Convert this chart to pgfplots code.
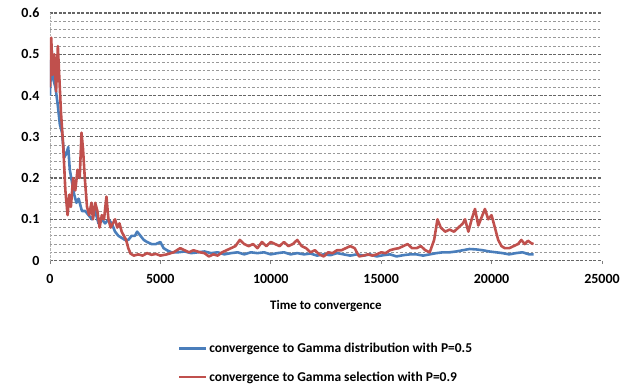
\documentclass[border=0pt]{standalone}
\usepackage{pgfplots}
\pgfplotsset{compat=1.18}
\usepackage{fontspec}
\setmainfont{Carlito}
\definecolor{xlblue}{RGB}{74,126,187}
\definecolor{xlred}{RGB}{192,80,77}
\begin{document}
\begin{tikzpicture}
\begin{axis}[
  scale only axis, width=553pt, height=248pt,
  xmin=0, xmax=25000, ymin=0, ymax=0.6,
  xtick={0,5000,...,25000},
  ytick={0,0.1,...,0.6},
  minor y tick num=4,
  ymajorgrids, yminorgrids,
  major grid style={black!60, dash pattern=on 3pt off 1.5pt, line width=1.1pt},
  minor grid style={black!40, dash pattern=on 2.5pt off 2pt, line width=0.8pt},
  axis x line*=bottom, axis y line*=left,
  x axis line style={black!60, dash pattern=on 3pt off 1.5pt, line width=1.1pt},
  y axis line style={gray!60, densely dotted},
  x tick style={gray, line width=0.6pt},
  y tick style={draw=none}, minor y tick style={draw=none},
  tick align=outside, major tick length=3pt,
  scaled x ticks=false,
  xticklabel style={/pgf/number format/1000 sep={}, font=\bfseries\fontsize{14}{16}\selectfont, yshift=-7pt},
  yticklabel style={/pgf/number format/fixed, /pgf/number format/precision=1, font=\bfseries\fontsize{14}{16}\selectfont, xshift=-4pt},
  /pgf/number format/assume math mode=true,
  xlabel={Time to convergence},
  xlabel style={font=\bfseries\fontsize{13}{15}\selectfont, yshift=-10pt},
  legend style={at={(0.5,-0.315)}, anchor=north, draw=none, fill=none,
    font=\bfseries\fontsize{13.5}{15}\selectfont, row sep=14pt},
  legend cell align=left,
  legend image code/.code={\draw[#1, line width=2.6pt] (0cm,0cm) -- (0.95cm,0cm);},
  every axis plot/.append style={line width=2.6pt, line join=round},
]
\addplot[xlblue] coordinates {
(0,0.40)(80,0.51)(150,0.44)(250,0.42)(350,0.38)(450,0.33)(550,0.31)(650,0.25)(750,0.26)(830,0.275)
(900,0.22)(1000,0.19)(1100,0.16)(1200,0.14)(1300,0.15)(1450,0.12)(1600,0.12)(1750,0.11)(1900,0.10)
(2050,0.12)(2200,0.09)(2350,0.10)(2500,0.09)(2650,0.10)(2800,0.09)(2950,0.07)(3100,0.06)(3250,0.055)
(3400,0.05)(3550,0.05)(3700,0.06)(3850,0.06)(3950,0.07)(4100,0.06)(4250,0.05)(4400,0.045)(4600,0.04)
(4800,0.04)(5000,0.045)(5150,0.03)(5300,0.025)(5500,0.02)(5800,0.02)(6100,0.022)(6400,0.018)(6700,0.02)
(7000,0.022)(7300,0.018)(7600,0.02)(7900,0.015)(8200,0.018)(8500,0.02)(8800,0.015)(9100,0.02)(9400,0.018)
(9700,0.02)(10000,0.015)(10300,0.018)(10600,0.02)(10900,0.015)(11200,0.018)(11500,0.015)(11800,0.017)
(12100,0.012)(12400,0.015)(12700,0.013)(13000,0.018)(13300,0.015)(13600,0.012)(13900,0.015)(14200,0.012)
(14500,0.015)(14800,0.01)(15100,0.013)(15400,0.015)(15700,0.01)(16000,0.013)(16300,0.015)(16600,0.015)
(16900,0.012)(17200,0.015)(17500,0.018)(17800,0.02)(18100,0.02)(18400,0.022)(18700,0.025)(19000,0.028)
(19300,0.027)(19600,0.025)(19900,0.022)(20200,0.02)(20500,0.018)(20800,0.015)(21100,0.018)(21400,0.02)
(21700,0.015)(21900,0.015)
};
\addlegendentry{convergence to Gamma distribution with P=0.5}
\addplot[xlred] coordinates {
(0,0.42)(60,0.54)(120,0.45)(200,0.50)(280,0.41)(360,0.52)(420,0.45)(500,0.36)(600,0.28)(700,0.17)
(800,0.11)(880,0.16)(950,0.13)(1050,0.2)(1150,0.17)(1250,0.22)(1350,0.20)(1430,0.31)(1500,0.27)
(1580,0.20)(1680,0.13)(1780,0.11)(1880,0.14)(1950,0.10)(2050,0.14)(2150,0.12)(2250,0.08)(2350,0.11)
(2450,0.10)(2560,0.155)(2650,0.10)(2750,0.08)(2850,0.09)(2950,0.10)(3050,0.08)(3150,0.09)(3250,0.07)
(3350,0.06)(3450,0.05)(3550,0.03)(3650,0.017)(3800,0.012)(4000,0.015)(4200,0.012)(4400,0.018)
(4600,0.014)(4800,0.016)(5000,0.012)(5300,0.015)(5600,0.02)(5900,0.03)(6100,0.025)(6300,0.02)
(6500,0.025)(6800,0.02)(7000,0.018)(7200,0.01)(7400,0.015)(7600,0.012)(7800,0.02)(8000,0.025)
(8200,0.03)(8400,0.035)(8600,0.05)(8800,0.04)(9000,0.035)(9200,0.04)(9400,0.03)(9600,0.045)
(9800,0.035)(10000,0.045)(10200,0.04)(10400,0.035)(10600,0.045)(10800,0.035)(11000,0.04)(11200,0.05)
(11400,0.035)(11600,0.03)(11800,0.02)(12000,0.025)(12200,0.015)(12400,0.01)(12600,0.02)(12800,0.018)
(13000,0.025)(13200,0.025)(13400,0.03)(13600,0.035)(13800,0.03)(14000,0.01)(14200,0.012)(14400,0.015)
(14600,0.012)(14800,0.015)(15000,0.02)(15200,0.018)(15400,0.025)(15600,0.028)(15800,0.03)(16000,0.035)
(16200,0.04)(16400,0.03)(16600,0.03)(16800,0.035)(17000,0.025)(17200,0.02)(17400,0.05)(17550,0.10)
(17700,0.08)(17900,0.07)(18100,0.075)(18300,0.07)(18500,0.08)(18700,0.09)(18800,0.10)(18950,0.07)
(19100,0.10)(19250,0.125)(19400,0.085)(19550,0.105)(19700,0.125)(19850,0.10)(20000,0.11)(20150,0.08)
(20300,0.05)(20450,0.035)(20600,0.03)(20800,0.03)(21000,0.035)(21200,0.04)(21350,0.05)(21500,0.04)
(21650,0.048)(21800,0.042)(21900,0.04)
};
\addlegendentry{convergence to Gamma selection with P=0.9}
\end{axis}
\path ([shift={(-50pt,-124pt)}]current axis.south west) rectangle ([shift={(573pt,261pt)}]current axis.south west);
\end{tikzpicture}
\end{document}
